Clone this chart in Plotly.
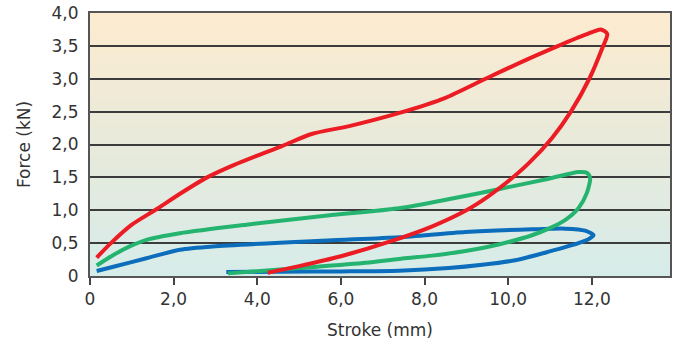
import plotly.graph_objects as go

# Force–stroke hysteresis loops (stroke in mm, force in kN).
# Each loop: loading branch left -> right, then unloading branch back.
red_x = [0.16, 0.5, 1.0, 1.55, 2.2, 2.8, 3.45, 4.6, 5.3, 6.2, 7.4, 8.5,
         9.46, 10.3, 11.2, 11.85, 12.22, 12.37, 12.24, 11.94, 11.5, 11.05, 10.5, 10.0,
         9.5, 9.0, 8.2, 7.2, 6.0, 5.0, 4.25]
red_y = [0.28, 0.5, 0.78, 1.0, 1.27, 1.5, 1.69, 1.98, 2.16, 2.28, 2.48, 2.71,
         3.0, 3.25, 3.5, 3.67, 3.75, 3.68, 3.45, 3.0, 2.5, 2.1, 1.72, 1.44,
         1.2, 1.0, 0.76, 0.53, 0.3, 0.15, 0.05]

green_x = [0.16, 0.56, 0.95, 1.35, 2.15, 3.74, 5.68, 7.39, 8.6, 9.77, 10.97, 11.68, 11.88,
           11.96, 11.88, 11.68, 11.36, 10.97, 10.57, 9.77, 8.98, 8.18, 7.39, 6.6, 5.0, 3.3]
green_y = [0.16, 0.32, 0.45, 0.55, 0.65, 0.78, 0.92, 1.03, 1.17, 1.32, 1.48, 1.58, 1.57,
           1.49, 1.26, 1.03, 0.85, 0.72, 0.62, 0.48, 0.38, 0.31, 0.26, 0.2, 0.12, 0.04]

blue_x = [0.16, 0.56, 1.35, 2.15, 2.94, 5.68, 7.39, 8.98, 10.57, 11.36, 11.84, 12.04,
          11.92, 11.68, 10.97, 10.17, 9.38, 8.58, 7.39, 6.0, 4.5, 3.26]
blue_y = [0.076, 0.14, 0.27, 0.4, 0.45, 0.54, 0.59, 0.67, 0.71, 0.72, 0.69, 0.62,
          0.56, 0.5, 0.37, 0.24, 0.17, 0.12, 0.08, 0.07, 0.065, 0.06]

x_ticks = [0, 2, 4, 6, 8, 10, 12]
x_labels = ["0", "2,0", "4,0", "6,0", "8,0", "10,0", "12,0"]
y_ticks = [0, 0.5, 1.0, 1.5, 2.0, 2.5, 3.0, 3.5, 4.0]
y_labels = ["0", "0,5", "1,0", "1,5", "2,0", "2,5", "3,0", "3,5", "4,0"]

X_MAX = 13.87
Y_MAX = 4.0

fig = go.Figure()

for xs, ys, col in [(blue_x, blue_y, "#0b6dbb"),
                    (green_x, green_y, "#25b46f"),
                    (red_x, red_y, "#ec1c24")]:
    fig.add_trace(go.Scatter(
        x=xs, y=ys, mode="lines",
        line=dict(color=col, width=4, shape="spline", smoothing=0.7),
        hoverinfo="skip", showlegend=False,
    ))

# Vertical background gradient: warm cream at top, pale aqua at bottom.
stops = [(0.0, (214, 236, 234)), (0.5, (232, 234, 219)), (1.0, (253, 235, 207))]


def blend(t):
    for (t0, c0), (t1, c1) in zip(stops[:-1], stops[1:]):
        if t0 <= t <= t1:
            f = (t - t0) / (t1 - t0)
            return "rgb(%d,%d,%d)" % tuple(round(a + (b - a) * f) for a, b in zip(c0, c1))
    return "rgb(%d,%d,%d)" % stops[-1][1]


n_bands = 120
for i in range(n_bands):
    y0 = Y_MAX * i / n_bands
    y1 = Y_MAX * (i + 1) / n_bands
    fig.add_shape(type="rect", xref="paper", yref="y", x0=0, x1=1, y0=y0, y1=y1 + 0.005,
                  fillcolor=blend((i + 0.5) / n_bands), line=dict(width=0), layer="below")

font_family = "DejaVu Sans, Arial, sans-serif"

fig.update_layout(
    width=674, height=342,
    margin=dict(l=90, r=2, t=13, b=66),
    paper_bgcolor="white",
    plot_bgcolor="#e8eadb",
    font=dict(family=font_family, size=17, color="#333333"),
    xaxis=dict(
        range=[0, X_MAX], tickvals=x_ticks, ticktext=x_labels,
        showgrid=False, zeroline=False,
        showline=True, mirror=True, linecolor="#555555", linewidth=2,
        ticks="outside", ticklen=7, tickwidth=1.5, tickcolor="#444444",
        title=dict(text="Stroke (mm)", font=dict(size=17), standoff=16),
        tickfont=dict(size=17),
    ),
    yaxis=dict(
        range=[0, Y_MAX], tickvals=y_ticks, ticktext=y_labels,
        showgrid=True, gridcolor="#3c3c3c", gridwidth=1.5, zeroline=False,
        showline=True, mirror=True, linecolor="#555555", linewidth=2,
        ticks="outside", ticklen=6, tickcolor="rgba(0,0,0,0)",
        title=dict(text="Force (kN)", font=dict(size=17), standoff=17),
        tickfont=dict(size=17),
    ),
)

fig.write_html("out.html")
